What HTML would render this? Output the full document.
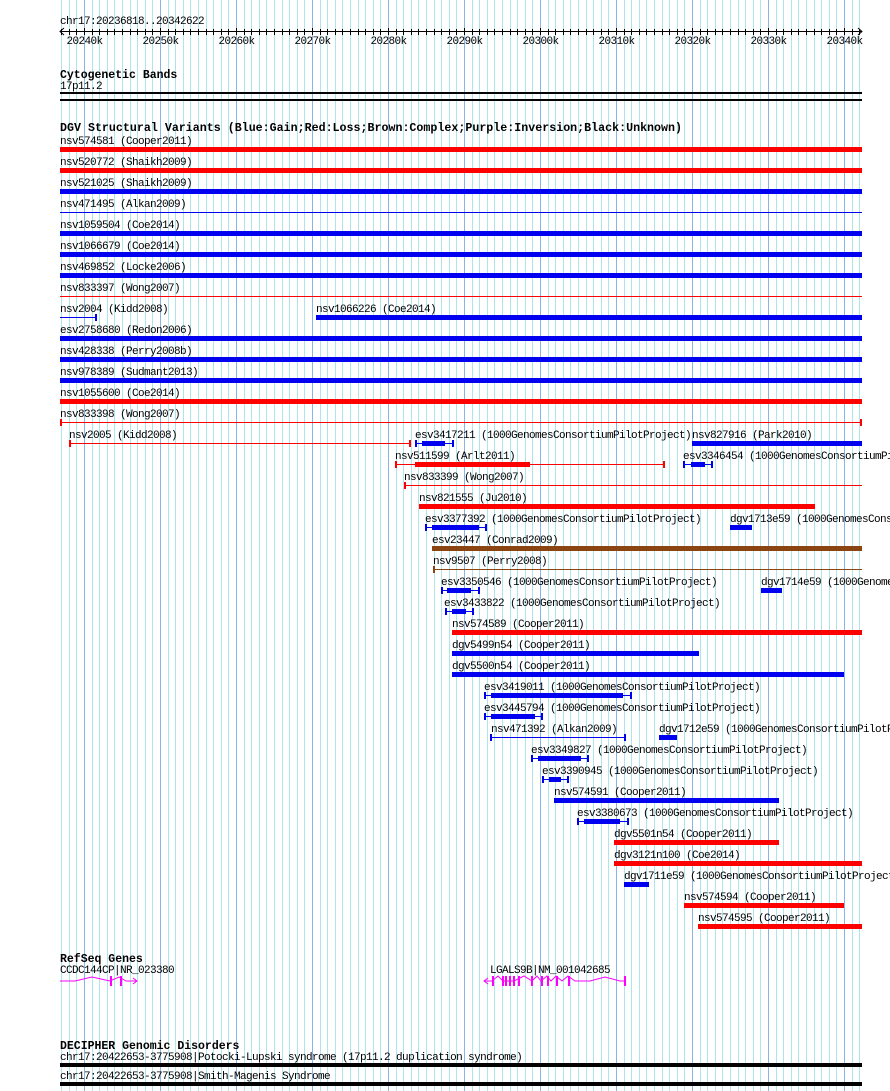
<!DOCTYPE html>
<html><head><meta charset="utf-8"><style>
html,body{margin:0;padding:0;background:#fff;}
svg{display:block;}
text{font-family:"Liberation Mono","DejaVu Sans Mono",monospace;font-size:11px;letter-spacing:-0.6px;fill:#000;}
.b{font-weight:bold;font-size:11.5px;letter-spacing:0;}
</style></head><body>
<svg id="s" width="890" height="1091" xmlns="http://www.w3.org/2000/svg"></svg>
<script>
const s=document.getElementById('s');let h='';
const X=k=>84+(k-20240)*7.6;
for(let k=20237;k<=20342;k++){const x=Math.round(X(k))+0.5;h+=`<line x1="${x}" y1="0" x2="${x}" y2="1091" stroke="${k%10==0?'#88b4e6':'#aee4ec'}" stroke-width="1"/>`;}
h+=`<text x="60" y="24">chr17:20236818..20342622</text>`;
h+=`<line x1="60" y1="31.5" x2="862" y2="31.5" stroke="#000"/>`;
h+=`<path d="M64 28 L60 31.5 L64 35 M858 28 L862 31.5 L858 35" stroke="#000" fill="none"/>`;
for(let k=20237;k<=20342;k++){const x=Math.round(X(k))+0.5;h+=`<line x1="${x}" y1="${k%10==0?28:29}" x2="${x}" y2="35" stroke="#000"/>`;if(k%10==0)h+=`<text x="${x}" y="44" text-anchor="middle">${k}k</text>`;}
h+=`<text class="b" x="60" y="78">Cytogenetic Bands</text><text x="60" y="89">17p11.2</text>`;
h+=`<rect x="60" y="92" width="802" height="2" fill="#000"/><rect x="60" y="99" width="802" height="2" fill="#000"/>`;
h+=`<text class="b" x="60" y="131" textLength="622" lengthAdjust="spacingAndGlyphs">DGV Structural Variants (Blue:Gain;Red:Loss;Brown:Complex;Purple:Inversion;Black:Unknown)</text>`;
const B='#0000f0',R='#ff0000',N='#8b4513';
function bar(x1,x2,y,c){h+=`<rect x="${x1}" y="${y}" width="${x2-x1}" height="5" fill="${c}"/>`;}
function thin(x1,x2,y,c,t1,t2){h+=`<line x1="${x1}" y1="${y+2.5}" x2="${x2}" y2="${y+2.5}" stroke="${c}"/>`;if(t1)h+=`<rect x="${x1}" y="${y-1}" width="2" height="7" fill="${c}"/>`;if(t2)h+=`<rect x="${x2-2}" y="${y-1}" width="2" height="7" fill="${c}"/>`;}
function cap(t1,b1,b2,t2,y,c){thin(t1,t2,y,c,1,1);bar(b1,b2,y,c);}
function lab(x,i,t){h+=`<text x="${x}" y="${144+21*i}">${t}</text>`;}
const Y=i=>147+21*i;
const full=[['nsv574581 (Cooper2011)',R,1],['nsv520772 (Shaikh2009)',R,1],['nsv521025 (Shaikh2009)',B,1],['nsv471495 (Alkan2009)',B,0],['nsv1059504 (Coe2014)',B,1],['nsv1066679 (Coe2014)',B,1],['nsv469852 (Locke2006)',B,1],['nsv833397 (Wong2007)',R,0]];
full.forEach((f,i)=>{lab(60,i,f[0]);f[2]?bar(60,862,Y(i),f[1]):thin(60,862,Y(i),f[1],0,0);});
lab(60,8,'nsv2004 (Kidd2008)');thin(60,97,Y(8),B,0,1);lab(316,8,'nsv1066226 (Coe2014)');bar(316,862,Y(8),B);
lab(60,9,'esv2758680 (Redon2006)');bar(60,862,Y(9),B);
lab(60,10,'nsv428338 (Perry2008b)');bar(60,862,Y(10),B);
lab(60,11,'nsv978389 (Sudmant2013)');bar(60,862,Y(11),B);
lab(60,12,'nsv1055600 (Coe2014)');bar(60,862,Y(12),R);
lab(60,13,'nsv833398 (Wong2007)');thin(60,862,Y(13),R,1,1);
lab(69,14,'nsv2005 (Kidd2008)');thin(69,411,Y(14),R,1,1);
lab(415,14,'esv3417211 (1000GenomesConsortiumPilotProject)');cap(415,422,445,454,Y(14),B);
lab(692,14,'nsv827916 (Park2010)');bar(692,862,Y(14),B);
lab(395,15,'nsv511599 (Arlt2011)');thin(395,665,Y(15),R,1,1);bar(415,530,Y(15),R);
lab(683,15,'esv3346454 (1000GenomesConsortiumPilotProject)');cap(683,691,705,713,Y(15),B);
lab(404,16,'nsv833399 (Wong2007)');thin(404,862,Y(16),R,1,0);
lab(419,17,'nsv821555 (Ju2010)');bar(419,815,Y(17),R);
lab(425,18,'esv3377392 (1000GenomesConsortiumPilotProject)');cap(425,432,479,487,Y(18),B);
lab(730,18,'dgv1713e59 (1000GenomesConsortiumPilotProject)');bar(730,752,Y(18),B);
lab(432,19,'esv23447 (Conrad2009)');bar(432,862,Y(19),N);
lab(433,20,'nsv9507 (Perry2008)');thin(433,862,Y(20),N,1,0);
lab(441,21,'esv3350546 (1000GenomesConsortiumPilotProject)');cap(441,447,471,480,Y(21),B);
lab(761,21,'dgv1714e59 (1000GenomesConsortiumPilotProject)');bar(761,782,Y(21),B);
lab(444,22,'esv3433822 (1000GenomesConsortiumPilotProject)');cap(445,452,466,474,Y(22),B);
lab(452,23,'nsv574589 (Cooper2011)');bar(452,862,Y(23),R);
lab(452,24,'dgv5499n54 (Cooper2011)');bar(452,699,Y(24),B);
lab(452,25,'dgv5500n54 (Cooper2011)');bar(452,844,Y(25),B);
lab(484,26,'esv3419011 (1000GenomesConsortiumPilotProject)');cap(484,491,623,632,Y(26),B);
lab(484,27,'esv3445794 (1000GenomesConsortiumPilotProject)');cap(484,491,535,543,Y(27),B);
lab(491,28,'nsv471392 (Alkan2009)');thin(490,626,Y(28),B,1,1);
lab(659,28,'dgv1712e59 (1000GenomesConsortiumPilotProject)');bar(659,677,Y(28),B);
lab(531,29,'esv3349827 (1000GenomesConsortiumPilotProject)');cap(531,538,581,589,Y(29),B);
lab(542,30,'esv3390945 (1000GenomesConsortiumPilotProject)');cap(542,549,561,569,Y(30),B);
lab(554,31,'nsv574591 (Cooper2011)');bar(554,779,Y(31),B);
lab(577,32,'esv3380673 (1000GenomesConsortiumPilotProject)');cap(577,584,620,629,Y(32),B);
lab(614,33,'dgv5501n54 (Cooper2011)');bar(614,779,Y(33),R);
lab(614,34,'dgv3121n100 (Coe2014)');bar(614,862,Y(34),R);
lab(624,35,'dgv1711e59 (1000GenomesConsortiumPilotProject)');bar(624,649,Y(35),B);
lab(684,36,'nsv574594 (Cooper2011)');bar(684,844,Y(36),R);
lab(698,37,'nsv574595 (Cooper2011)');bar(698,862,Y(37),R);
const M='#ff00ff';
h+=`<text class="b" x="60" y="962">RefSeq Genes</text>`;
h+=`<text x="60" y="973">CCDC144CP|NR_023380</text><text x="490" y="973">LGALS9B|NM_001042685</text>`;
h+=`<path d="M60 981 L75 981 L92 977 L110 981 L119 977 L126 981 L137 981 M133 978 L137 981 L133 984" stroke="${M}" fill="none"/>`;
[110,120].forEach(x=>h+=`<rect x="${x}" y="976" width="2" height="10" fill="${M}"/>`);
h+=`<path d="M484 981 L492 981 L498 976 L503 981 L514 981 L524 976 L532 981 L537 976 L541 981 L547 976 L551 981 L556 976 L562 981 L568 976 L575 981 L590 981 L605 977 L620 981 L625 981 M488 978 L484 981 L488 984" stroke="${M}" fill="none"/>`;
[492,502,505,509,513,518,531,541,547,556,568,624].forEach(x=>h+=`<rect x="${x}" y="976" width="2" height="10" fill="${M}"/>`);
h+=`<text class="b" x="60" y="1049">DECIPHER Genomic Disorders</text>`;
h+=`<text x="60" y="1060">chr17:20422653-3775908|Potocki-Lupski syndrome (17p11.2 duplication syndrome)</text>`;
h+=`<rect x="60" y="1063" width="802" height="4" fill="#000"/>`;
h+=`<text x="60" y="1079">chr17:20422653-3775908|Smith-Magenis Syndrome</text>`;
h+=`<rect x="60" y="1082" width="802" height="4" fill="#000"/>`;
s.innerHTML=h;
</script>
</body></html>
